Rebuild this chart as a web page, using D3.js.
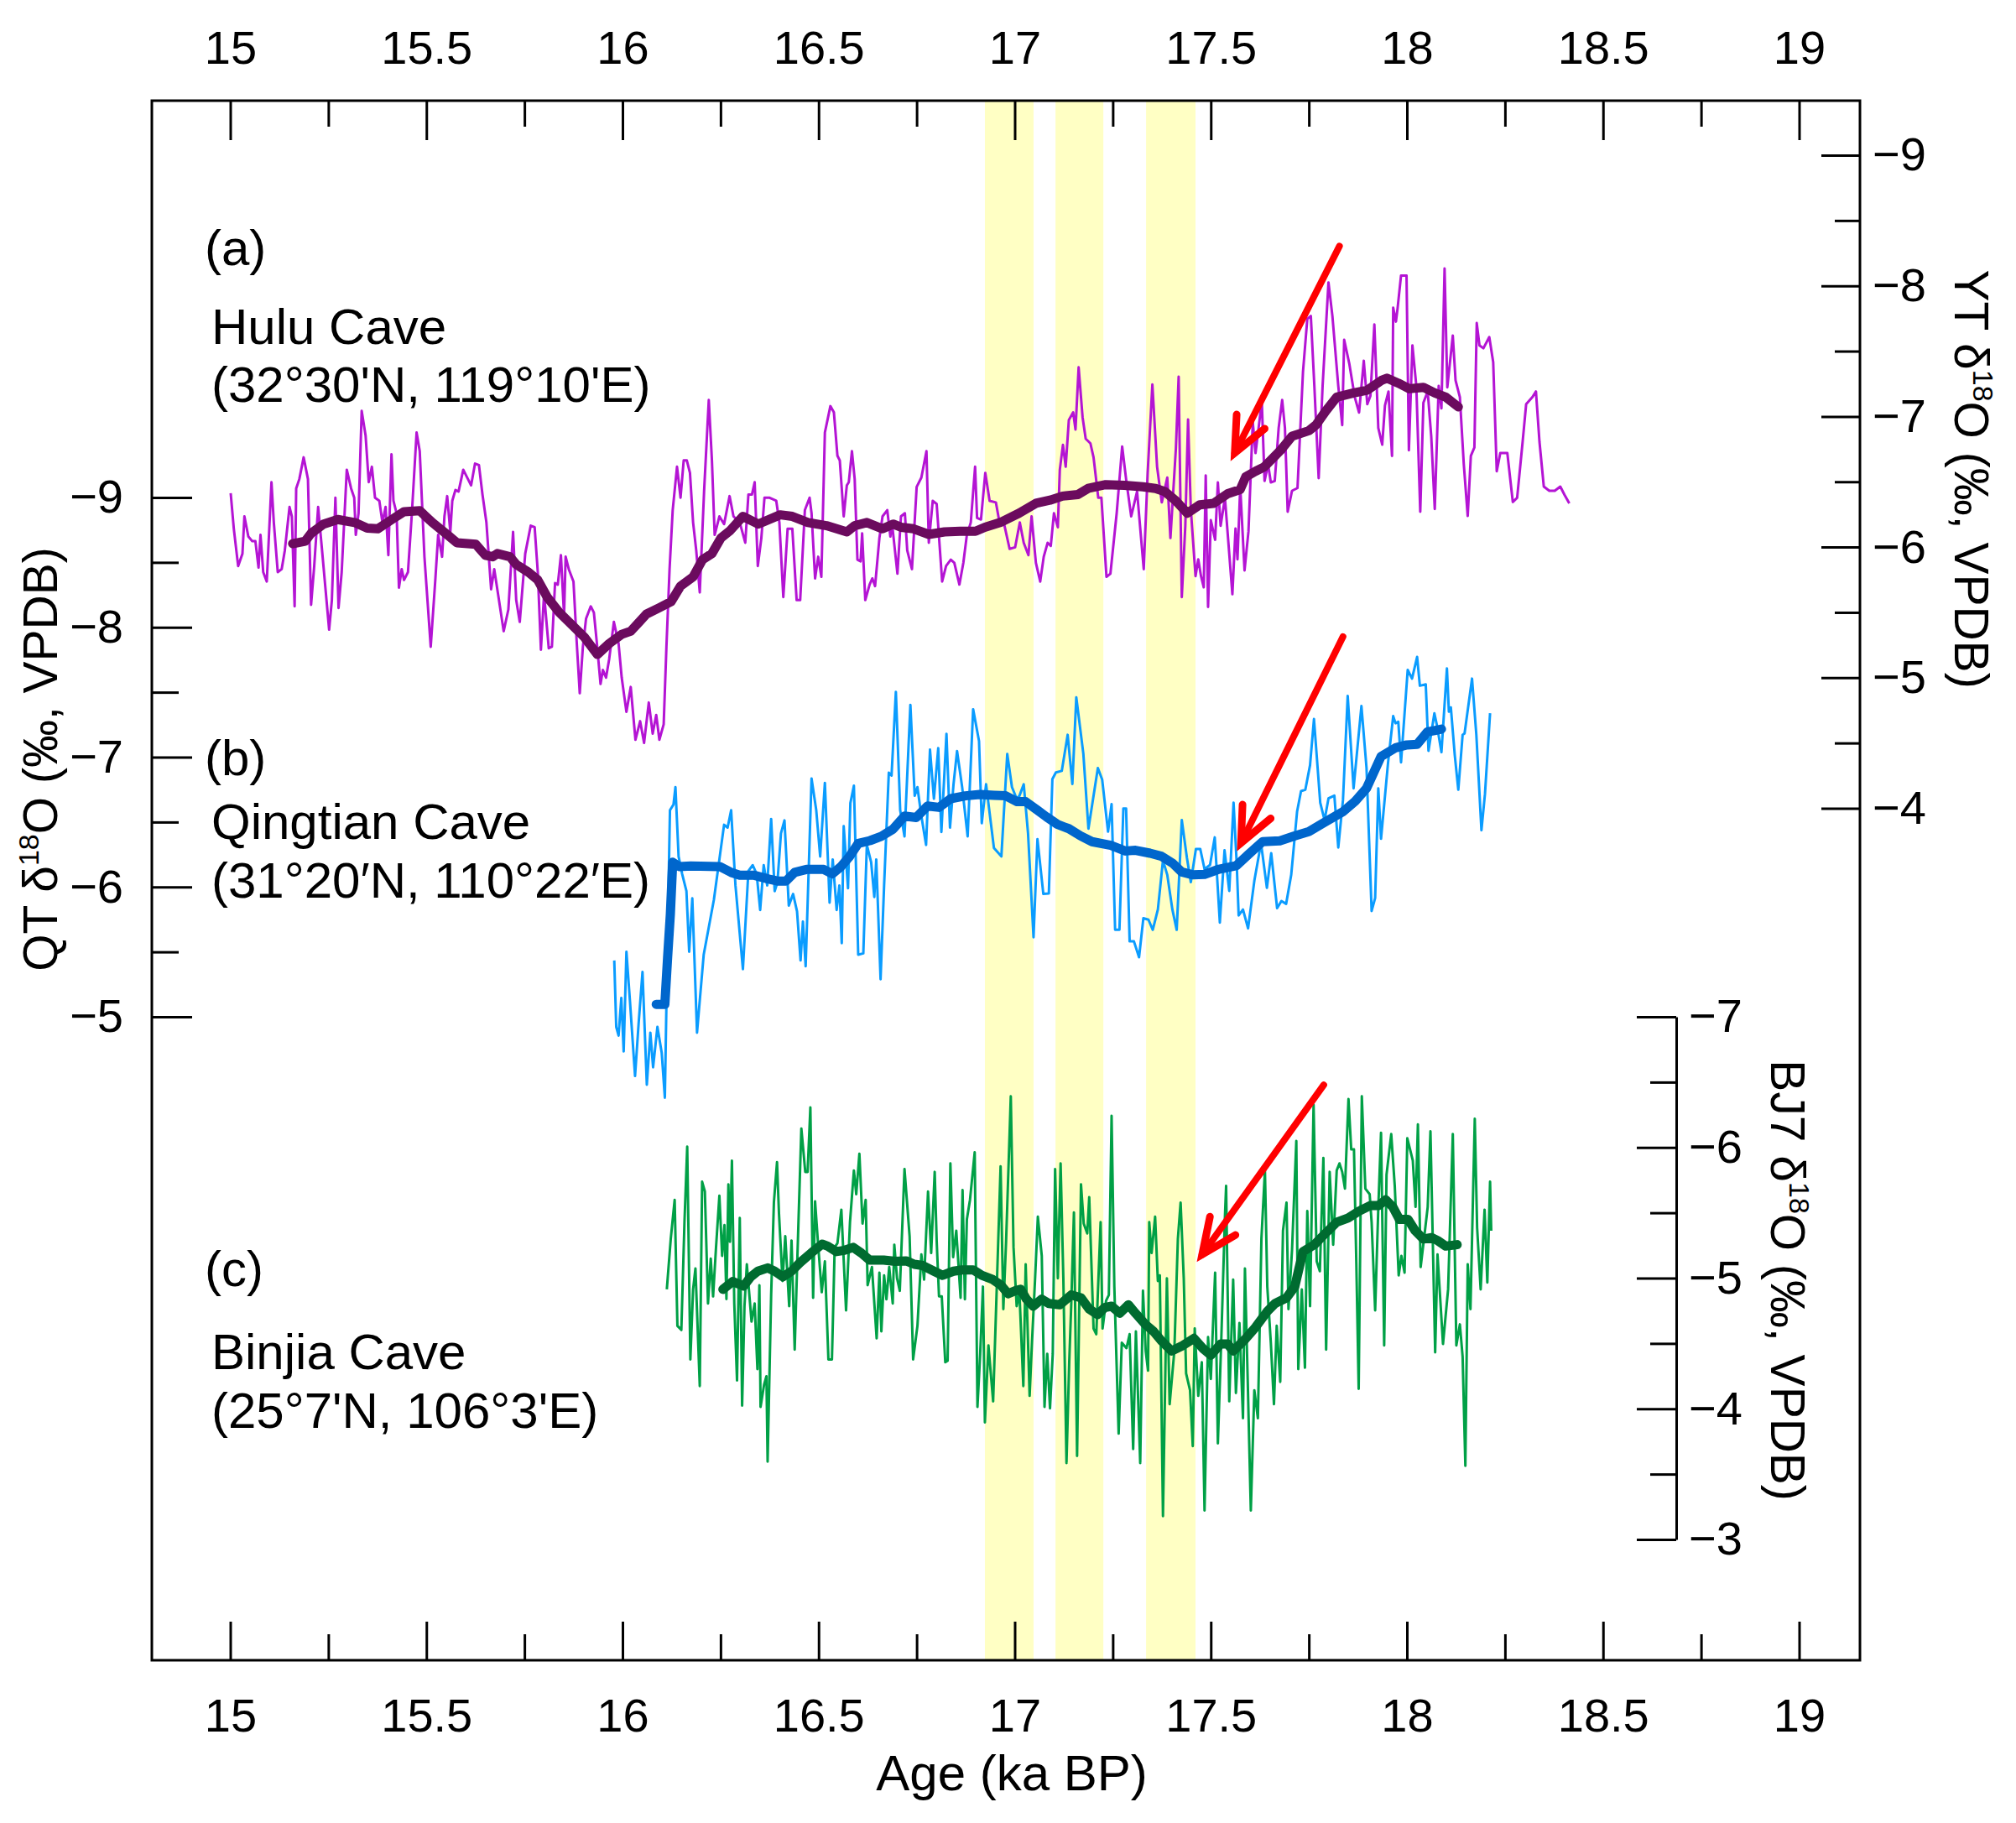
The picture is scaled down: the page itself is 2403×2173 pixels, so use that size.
<!DOCTYPE html>
<html>
<head>
<meta charset="utf-8">
<script src="https://cdn.jsdelivr.net/npm/d3@7"></script>
<style>
  body { margin: 0; background: #fff; }
</style>
</head>
<body>
<script>
// values: [age (ka BP), d18O (permil)]
var huluRaw = [
  [15.001,-6.413],[15.009,-6.140],[15.020,-5.855],[15.031,-5.950],[15.036,-6.235],[15.046,-6.081],[15.056,-6.045],[15.064,-6.045],
  [15.072,-5.843],[15.077,-6.093],[15.084,-5.808],[15.093,-5.736],[15.105,-6.497],[15.111,-6.188],[15.121,-5.808],[15.131,-5.831],
  [15.139,-5.974],[15.151,-6.307],[15.157,-6.235],[15.164,-5.546],[15.168,-6.449],[15.176,-6.520],[15.187,-6.687],[15.198,-6.520],
  [15.206,-5.558],[15.214,-5.855],[15.224,-6.307],[15.234,-5.974],[15.252,-5.368],[15.259,-5.594],[15.268,-6.378],[15.276,-5.534],
  [15.284,-5.808],[15.297,-6.592],[15.308,-6.449],[15.316,-6.378],[15.320,-6.093],[15.327,-6.259],[15.335,-7.043],[15.345,-6.853],
  [15.353,-6.497],[15.361,-6.615],[15.369,-6.378],[15.380,-6.354],[15.388,-6.188],[15.396,-6.307],[15.403,-5.938],[15.411,-6.710],
  [15.416,-6.354],[15.424,-6.259],[15.430,-5.689],[15.437,-5.831],[15.443,-5.748],[15.453,-5.808],[15.463,-6.259],[15.475,-6.877],
  [15.483,-6.734],[15.495,-5.926],[15.511,-5.237],[15.523,-5.760],[15.530,-6.093],[15.540,-5.926],[15.546,-6.235],[15.553,-6.390],
  [15.561,-6.116],[15.566,-6.354],[15.574,-6.437],[15.582,-6.425],[15.594,-6.592],[15.606,-6.520],[15.614,-6.473],[15.624,-6.639],
  [15.634,-6.627],[15.643,-6.402],[15.653,-6.188],[15.665,-5.677],[15.673,-5.831],[15.685,-5.594],[15.697,-5.356],[15.709,-5.522],
  [15.721,-6.116],[15.729,-5.594],[15.738,-5.427],[15.752,-5.950],[15.766,-6.164],[15.776,-6.152],[15.784,-5.808],[15.792,-5.214],
  [15.800,-5.641],[15.812,-5.225],[15.820,-5.237],[15.828,-5.724],[15.835,-5.712],[15.843,-5.938],[15.851,-5.475],[15.855,-5.926],
  [15.863,-5.831],[15.875,-5.736],[15.883,-5.285],[15.891,-4.881],[15.899,-5.237],[15.907,-5.451],[15.919,-5.546],[15.927,-5.499],
  [15.934,-5.285],[15.944,-4.952],[15.950,-5.059],[15.958,-5.000],[15.966,-5.142],[15.978,-5.427],[15.990,-5.261],[15.998,-5.000],
  [16.010,-4.738],[16.021,-4.929],[16.033,-4.525],[16.045,-4.667],[16.055,-4.501],[16.067,-4.810],[16.077,-4.572],[16.086,-4.715],
  [16.094,-4.525],[16.105,-4.643],[16.112,-5.237],[16.120,-5.831],[16.128,-6.283],[16.139,-6.615],[16.148,-6.378],[16.156,-6.663],
  [16.164,-6.663],[16.172,-6.568],[16.180,-6.188],[16.188,-5.974],[16.197,-5.653],[16.208,-6.425],[16.220,-7.126],[16.228,-6.663],
  [16.235,-6.093],[16.247,-6.235],[16.259,-6.176],[16.273,-6.390],[16.283,-6.235],[16.299,-6.188],[16.313,-6.033],[16.321,-6.402],
  [16.330,-6.402],[16.337,-6.497],[16.345,-5.855],[16.354,-6.069],[16.362,-6.378],[16.374,-6.378],[16.392,-6.354],[16.400,-6.188],
  [16.410,-5.617],[16.421,-6.140],[16.433,-6.140],[16.444,-5.594],[16.453,-5.594],[16.465,-6.283],[16.477,-6.378],[16.482,-6.259],
  [16.491,-5.760],[16.499,-5.926],[16.507,-5.772],[16.516,-6.877],[16.530,-7.079],[16.539,-7.031],[16.548,-6.699],[16.554,-6.663],
  [16.564,-6.235],[16.572,-6.473],[16.577,-6.497],[16.585,-6.734],[16.592,-6.520],[16.599,-5.903],[16.607,-5.891],[16.611,-6.105],
  [16.619,-5.594],[16.630,-5.713],[16.637,-5.760],[16.644,-5.701],[16.655,-6.069],[16.663,-6.235],[16.675,-6.283],[16.683,-6.081],
  [16.687,-6.188],[16.701,-5.796],[16.710,-6.235],[16.720,-6.259],[16.726,-5.974],[16.738,-5.831],[16.750,-6.461],[16.762,-6.532],
  [16.775,-6.734],[16.781,-6.033],[16.791,-6.354],[16.801,-6.330],[16.815,-5.736],[16.825,-5.855],[16.837,-5.903],[16.846,-5.879],
  [16.859,-5.713],[16.869,-5.879],[16.878,-6.093],[16.888,-6.188],[16.899,-6.615],[16.904,-6.223],[16.914,-6.211],[16.925,-6.568],
  [16.936,-6.354],[16.952,-6.342],[16.962,-6.176],[16.973,-6.176],[16.987,-5.986],[17.001,-5.998],[17.013,-6.188],[17.023,-6.033],
  [17.035,-5.938],[17.043,-6.235],[17.054,-5.879],[17.065,-5.736],[17.074,-5.926],[17.084,-6.033],[17.092,-6.009],[17.100,-6.259],
  [17.110,-6.152],[17.115,-6.592],[17.123,-6.782],[17.130,-6.615],[17.138,-6.972],[17.149,-7.031],[17.155,-6.900],[17.163,-7.376],
  [17.173,-6.995],[17.181,-6.829],[17.193,-6.794],[17.201,-6.687],[17.213,-6.378],[17.221,-6.378],[17.234,-5.772],[17.244,-5.796],
  [17.260,-6.259],[17.274,-6.770],[17.284,-6.520],[17.297,-6.235],[17.312,-6.425],[17.329,-5.831],[17.339,-6.568],[17.351,-7.245],
  [17.363,-6.615],[17.375,-6.342],[17.389,-6.532],[17.397,-6.069],[17.411,-6.758],[17.418,-7.304],[17.426,-5.617],[17.435,-6.163],
  [17.442,-6.977],[17.449,-6.291],[17.461,-5.778],[17.468,-5.906],[17.475,-5.778],[17.482,-5.692],[17.487,-6.548],[17.493,-5.542],
  [17.500,-6.206],[17.511,-6.056],[17.518,-6.495],[17.525,-6.163],[17.536,-6.377],[17.547,-5.949],[17.555,-5.639],[17.563,-6.142],
  [17.568,-5.906],[17.575,-6.463],[17.586,-5.821],[17.596,-6.120],[17.607,-6.955],[17.614,-6.720],[17.621,-6.891],[17.630,-7.116],
  [17.637,-6.506],[17.646,-6.634],[17.653,-6.495],[17.663,-6.506],[17.673,-6.912],[17.682,-7.126],[17.689,-6.912],[17.696,-6.270],
  [17.707,-6.431],[17.721,-6.452],[17.735,-7.341],[17.746,-7.747],[17.755,-7.769],[17.764,-7.233],[17.775,-6.527],[17.785,-7.233],
  [17.800,-8.026],[17.810,-7.769],[17.825,-7.233],[17.835,-6.934],[17.840,-7.587],[17.853,-7.405],[17.867,-7.148],[17.878,-7.030],
  [17.890,-7.426],[17.899,-7.094],[17.907,-7.159],[17.917,-7.704],[17.927,-6.912],[17.937,-6.784],[17.944,-7.084],[17.953,-7.191],
  [17.962,-6.698],[17.965,-7.833],[17.972,-7.726],[17.976,-7.822],[17.985,-8.079],[17.999,-8.079],[18.005,-6.741],[18.014,-7.544],
  [18.024,-7.233],[18.034,-6.270],[18.042,-7.105],[18.053,-7.191],[18.062,-6.848],[18.071,-6.292],[18.081,-7.233],[18.088,-7.062],
  [18.096,-8.133],[18.103,-7.223],[18.117,-7.619],[18.124,-7.276],[18.135,-7.148],[18.145,-6.634],[18.155,-6.238],[18.163,-6.698],
  [18.172,-6.762],[18.178,-7.715],[18.185,-7.544],[18.195,-7.522],[18.210,-7.608],[18.220,-7.415],[18.229,-6.580],[18.238,-6.720],
  [18.256,-6.720],[18.270,-6.345],[18.281,-6.377],[18.295,-6.805],[18.304,-7.094],[18.320,-7.148],[18.329,-7.191],[18.338,-6.805],
  [18.349,-6.463],[18.363,-6.431],[18.377,-6.431],[18.391,-6.463],[18.402,-6.399],[18.414,-6.334]
];
var huluSmooth = [
  [15.159,-6.026],[15.191,-6.045],[15.206,-6.105],[15.238,-6.176],[15.274,-6.211],[15.317,-6.188],[15.349,-6.145],[15.376,-6.140],
  [15.412,-6.211],[15.443,-6.271],[15.483,-6.278],[15.515,-6.188],[15.554,-6.093],[15.578,-6.033],[15.626,-6.021],[15.650,-5.938],
  [15.669,-5.926],[15.681,-5.950],[15.713,-5.926],[15.729,-5.867],[15.760,-5.808],[15.784,-5.748],[15.808,-5.617],[15.839,-5.499],
  [15.871,-5.404],[15.903,-5.309],[15.936,-5.178],[15.966,-5.261],[15.998,-5.332],[16.021,-5.356],[16.061,-5.487],[16.093,-5.534],
  [16.124,-5.582],[16.148,-5.701],[16.180,-5.772],[16.204,-5.903],[16.228,-5.950],[16.251,-6.069],[16.275,-6.128],[16.307,-6.235],
  [16.346,-6.176],[16.402,-6.247],[16.433,-6.235],[16.473,-6.188],[16.520,-6.164],[16.572,-6.116],[16.592,-6.164],[16.623,-6.188],
  [16.663,-6.140],[16.690,-6.176],[16.710,-6.152],[16.742,-6.140],[16.781,-6.097],[16.821,-6.116],[16.861,-6.121],[16.900,-6.121],
  [16.924,-6.152],[16.963,-6.188],[17.011,-6.259],[17.054,-6.335],[17.090,-6.359],[17.122,-6.390],[17.161,-6.402],[17.187,-6.449],
  [17.232,-6.478],[17.280,-6.473],[17.327,-6.461],[17.359,-6.449],[17.383,-6.425],[17.411,-6.354],[17.440,-6.259],[17.472,-6.324],
  [17.507,-6.334],[17.543,-6.409],[17.575,-6.441],[17.589,-6.538],[17.614,-6.580],[17.636,-6.613],[17.657,-6.677],[17.678,-6.741],
  [17.707,-6.848],[17.750,-6.891],[17.768,-6.934],[17.793,-7.041],[17.821,-7.148],[17.864,-7.180],[17.899,-7.201],[17.935,-7.276],
  [17.949,-7.293],[17.978,-7.255],[18.006,-7.212],[18.042,-7.223],[18.071,-7.180],[18.099,-7.148],[18.131,-7.073]
];
var qtRaw = [
  [15.979,-5.434],[15.984,-4.922],[15.990,-4.855],[15.997,-5.145],[16.003,-4.733],[16.010,-5.501],[16.019,-5.122],[16.032,-4.544],
  [16.041,-4.944],[16.051,-5.345],[16.062,-4.477],[16.071,-4.878],[16.078,-4.611],[16.089,-4.922],[16.100,-4.722],[16.108,-4.377],
  [16.114,-5.456],[16.121,-6.591],[16.130,-6.635],[16.135,-6.769],[16.143,-6.235],[16.152,-6.101],[16.163,-5.968],[16.170,-5.501],
  [16.178,-5.912],[16.190,-4.878],[16.207,-5.478],[16.233,-5.901],[16.259,-6.479],[16.268,-6.457],[16.277,-6.591],[16.288,-6.012],
  [16.307,-5.367],[16.321,-6.123],[16.332,-6.168],[16.342,-6.101],[16.351,-5.823],[16.360,-6.168],[16.369,-6.012],[16.379,-6.524],
  [16.388,-5.968],[16.395,-6.035],[16.404,-6.413],[16.413,-6.513],[16.424,-5.857],[16.435,-5.946],[16.445,-5.812],[16.454,-5.434],
  [16.460,-5.734],[16.467,-5.389],[16.482,-6.835],[16.494,-6.591],[16.504,-6.235],[16.516,-6.802],[16.528,-5.879],[16.536,-6.212],
  [16.546,-5.823],[16.553,-6.012],[16.559,-5.567],[16.564,-6.468],[16.575,-5.990],[16.581,-6.646],[16.590,-6.780],[16.601,-5.478],
  [16.614,-5.489],[16.623,-6.324],[16.634,-6.190],[16.642,-5.923],[16.647,-6.212],[16.658,-5.289],[16.667,-6.012],[16.679,-6.880],
  [16.686,-6.858],[16.697,-7.503],[16.708,-6.591],[16.719,-6.390],[16.734,-7.403],[16.745,-6.702],[16.752,-6.769],[16.762,-6.546],
  [16.774,-6.324],[16.784,-7.058],[16.794,-6.680],[16.805,-7.069],[16.813,-6.424],[16.826,-7.180],[16.835,-6.457],[16.844,-6.791],
  [16.853,-7.047],[16.866,-6.769],[16.880,-6.390],[16.894,-7.369],[16.909,-7.125],[16.916,-6.491],[16.927,-6.791],[16.947,-6.301],
  [16.966,-6.235],[16.981,-7.025],[16.993,-6.769],[17.005,-6.680],[17.012,-6.702],[17.023,-6.791],[17.034,-6.413],[17.048,-5.612],
  [17.058,-6.368],[17.073,-5.946],[17.087,-5.950],[17.096,-6.830],[17.105,-6.882],[17.120,-6.894],[17.135,-7.172],[17.147,-6.793],
  [17.157,-7.461],[17.175,-7.027],[17.188,-6.449],[17.212,-6.916],[17.223,-6.827],[17.238,-6.426],[17.247,-6.638],[17.256,-5.670],
  [17.267,-5.670],[17.277,-6.604],[17.284,-6.604],[17.293,-5.581],[17.304,-5.581],[17.317,-5.459],[17.328,-5.759],[17.341,-5.748],
  [17.352,-5.670],[17.365,-5.826],[17.378,-6.204],[17.389,-6.093],[17.402,-5.826],[17.413,-5.670],[17.426,-6.515],[17.439,-6.226],
  [17.449,-6.037],[17.462,-6.293],[17.473,-6.293],[17.484,-6.137],[17.498,-6.170],[17.510,-6.382],[17.523,-5.726],[17.535,-6.282],
  [17.547,-5.970],[17.558,-6.649],[17.566,-6.182],[17.571,-5.781],[17.582,-5.826],[17.595,-5.681],[17.611,-6.048],[17.628,-6.337],
  [17.643,-5.993],[17.654,-6.260],[17.669,-5.837],[17.680,-5.892],[17.692,-5.870],[17.705,-6.093],[17.720,-6.582],[17.730,-6.738],
  [17.741,-6.749],[17.753,-6.938],[17.763,-7.294],[17.779,-6.649],[17.790,-6.515],[17.800,-6.682],[17.815,-6.704],[17.825,-6.304],
  [17.837,-6.671],[17.849,-7.472],[17.864,-6.760],[17.884,-7.394],[17.897,-6.916],[17.910,-5.815],[17.919,-5.915],[17.927,-6.760],
  [17.934,-6.371],[17.952,-6.960],[17.965,-7.316],[17.971,-7.261],[17.978,-7.272],[17.985,-6.960],[18.002,-7.672],[18.013,-7.605],
  [18.026,-7.772],[18.033,-7.550],[18.048,-7.561],[18.055,-7.049],[18.070,-7.338],[18.077,-7.238],[18.088,-7.038],[18.102,-7.683],
  [18.107,-7.350],[18.112,-7.383],[18.122,-7.016],[18.131,-6.749],[18.142,-7.172],[18.147,-7.183],[18.166,-7.605],[18.177,-7.172],
  [18.190,-6.437],[18.199,-6.716],[18.212,-7.338]
];
var qtSmooth = [
  [16.086,-5.096],[16.108,-5.096],[16.115,-5.456],[16.122,-5.790],[16.128,-6.190],[16.145,-6.157],[16.174,-6.161],[16.248,-6.157],
  [16.277,-6.112],[16.299,-6.090],[16.336,-6.090],[16.373,-6.061],[16.395,-6.046],[16.417,-6.046],[16.439,-6.112],[16.469,-6.135],
  [16.513,-6.135],[16.535,-6.101],[16.557,-6.157],[16.579,-6.235],[16.601,-6.335],[16.631,-6.357],[16.660,-6.390],[16.690,-6.446],
  [16.719,-6.546],[16.749,-6.535],[16.778,-6.624],[16.807,-6.613],[16.837,-6.680],[16.874,-6.702],[16.911,-6.713],[16.947,-6.706],
  [16.977,-6.702],[17.006,-6.657],[17.028,-6.657],[17.058,-6.591],[17.080,-6.542],[17.109,-6.482],[17.138,-6.449],[17.168,-6.393],
  [17.197,-6.349],[17.245,-6.320],[17.282,-6.277],[17.308,-6.282],[17.345,-6.260],[17.374,-6.237],[17.403,-6.182],[17.426,-6.115],
  [17.455,-6.093],[17.484,-6.097],[17.521,-6.137],[17.565,-6.164],[17.595,-6.248],[17.632,-6.349],[17.676,-6.355],[17.713,-6.393],
  [17.750,-6.426],[17.787,-6.493],[17.838,-6.582],[17.868,-6.660],[17.897,-6.760],[17.934,-7.005],[17.971,-7.072],[18.000,-7.094],
  [18.026,-7.098],[18.052,-7.194],[18.070,-7.205],[18.088,-7.216]
];
var bjRaw = [
  [16.113,-4.914],[16.123,-5.299],[16.133,-5.599],[16.140,-4.635],[16.150,-4.603],[16.158,-5.428],[16.165,-6.006],[16.173,-4.378],
  [16.180,-4.914],[16.186,-5.074],[16.197,-4.174],[16.203,-5.738],[16.210,-5.663],[16.218,-4.806],[16.225,-5.149],[16.231,-4.860],
  [16.238,-5.213],[16.247,-5.631],[16.254,-5.170],[16.260,-5.406],[16.265,-4.839],[16.270,-5.717],[16.274,-5.278],[16.279,-5.899],
  [16.285,-4.806],[16.292,-4.217],[16.299,-5.460],[16.305,-4.024],[16.311,-4.785],[16.317,-5.106],[16.329,-4.667],[16.337,-4.806],
  [16.344,-4.303],[16.349,-4.946],[16.352,-4.014],[16.361,-4.185],[16.367,-4.249],[16.370,-3.596],[16.379,-4.871],[16.386,-5.578],
  [16.394,-5.888],[16.399,-5.492],[16.408,-4.978],[16.415,-5.321],[16.425,-4.785],[16.431,-5.288],[16.439,-4.453],[16.446,-5.170],
  [16.456,-6.145],[16.466,-5.813],[16.472,-5.813],[16.479,-6.306],[16.486,-4.849],[16.491,-5.588],[16.498,-5.288],[16.508,-4.892],
  [16.516,-5.128],[16.525,-4.378],[16.534,-4.378],[16.541,-5.235],[16.548,-5.267],[16.558,-5.524],[16.570,-4.753],[16.580,-5.428],
  [16.590,-5.824],[16.596,-5.642],[16.604,-5.952],[16.612,-5.417],[16.620,-5.599],[16.625,-4.946],[16.636,-5.085],[16.648,-4.539],
  [16.655,-5.042],[16.660,-4.592],[16.667,-5.021],[16.673,-4.838],[16.680,-5.085],[16.689,-4.806],[16.693,-5.256],[16.700,-4.999],
  [16.707,-4.903],[16.719,-5.835],[16.732,-5.320],[16.741,-4.378],[16.752,-4.635],[16.762,-5.181],[16.769,-4.989],[16.779,-5.663],
  [16.787,-5.192],[16.796,-5.813],[16.801,-5.288],[16.807,-4.860],[16.814,-4.860],[16.823,-4.356],[16.829,-4.367],[16.836,-5.878],
  [16.843,-5.160],[16.851,-5.363],[16.862,-4.849],[16.867,-5.674],[16.873,-4.838],[16.878,-5.449],[16.886,-5.599],[16.898,-5.963],
  [16.905,-4.014],[16.912,-4.421],[16.919,-4.935],[16.924,-3.896],[16.933,-4.485],[16.945,-4.057],[16.955,-4.999],[16.964,-5.856],
  [16.971,-4.763],[16.978,-5.278],[16.990,-6.392],[16.997,-5.235],[17.005,-4.785],[17.012,-4.892],[17.022,-4.174],[17.028,-5.106],
  [17.038,-4.099],[17.044,-4.506],[17.052,-4.999],[17.059,-5.470],[17.069,-5.170],[17.076,-4.014],[17.083,-4.421],[17.090,-4.003],
  [17.097,-4.421],[17.103,-5.835],[17.110,-4.999],[17.117,-5.878],[17.124,-4.999],[17.132,-3.585],[17.139,-4.356],[17.144,-4.785],
  [17.151,-5.503],[17.159,-3.639],[17.169,-5.717],[17.176,-5.417],[17.185,-5.342],[17.190,-5.620],[17.201,-4.614],[17.208,-4.571],
  [17.219,-5.428],[17.224,-4.614],[17.233,-4.828],[17.240,-4.871],[17.247,-6.242],[17.254,-4.935],[17.265,-3.810],[17.273,-4.506],
  [17.285,-4.464],[17.293,-4.571],[17.302,-3.692],[17.309,-4.592],[17.320,-3.585],[17.327,-4.903],[17.334,-4.442],[17.340,-4.292],
  [17.343,-5.428],[17.349,-5.192],[17.358,-5.470],[17.365,-4.978],[17.370,-5.021],[17.378,-3.178],[17.388,-4.999],[17.395,-4.035],
  [17.407,-4.442],[17.416,-5.299],[17.423,-5.578],[17.431,-4.999],[17.437,-4.271],[17.447,-4.142],[17.454,-3.714],[17.459,-4.614],
  [17.468,-4.099],[17.477,-4.356],[17.484,-3.221],[17.493,-4.549],[17.500,-4.228],[17.511,-5.042],[17.518,-3.735],[17.527,-4.560],
  [17.536,-5.470],[17.539,-5.706],[17.547,-4.057],[17.557,-4.989],[17.564,-4.121],[17.573,-4.656],[17.582,-3.928],[17.587,-5.074],
  [17.594,-4.228],[17.602,-3.221],[17.611,-4.142],[17.620,-3.928],[17.629,-5.299],[17.638,-5.824],[17.644,-4.935],[17.653,-4.506],
  [17.661,-4.035],[17.668,-4.635],[17.677,-4.206],[17.684,-5.363],[17.693,-5.578],[17.698,-4.763],[17.707,-5.213],[17.718,-6.049],
  [17.723,-4.303],[17.732,-4.914],[17.740,-4.314],[17.746,-5.513],[17.753,-4.785],[17.762,-6.327],[17.770,-5.128],[17.778,-5.053],
  [17.787,-5.920],[17.794,-4.453],[17.803,-5.813],[17.812,-5.256],[17.821,-5.824],[17.828,-5.878],[17.835,-5.813],[17.842,-5.685],
  [17.851,-6.370],[17.858,-5.985],[17.865,-5.985],[17.871,-5.117],[17.877,-4.153],[17.885,-6.392],[17.894,-5.685],[17.905,-5.642],
  [17.910,-5.428],[17.919,-4.753],[17.927,-5.535],[17.934,-6.113],[17.942,-4.485],[17.948,-5.792],[17.960,-6.102],[17.969,-5.706],
  [17.979,-5.021],[17.986,-5.170],[17.994,-5.042],[18.001,-6.070],[18.008,-5.985],[18.015,-5.899],[18.022,-5.545],[18.028,-6.177],
  [18.035,-5.085],[18.046,-5.363],[18.053,-5.545],[18.060,-6.124],[18.072,-4.432],[18.078,-5.181],[18.092,-4.496],[18.105,-4.914],
  [18.117,-6.102],[18.126,-4.485],[18.135,-4.646],[18.142,-4.399],[18.149,-3.564],[18.155,-5.106],[18.162,-4.763],[18.173,-6.220],
  [18.179,-5.385],[18.188,-4.914],[18.198,-5.524],[18.205,-4.967],[18.212,-5.738],[18.215,-5.363]
];
var bjSmooth = [
  [16.256,-4.914],[16.281,-4.974],[16.309,-4.939],[16.327,-5.010],[16.345,-5.053],[16.370,-5.078],[16.388,-5.053],[16.409,-5.010],
  [16.431,-5.053],[16.452,-5.117],[16.481,-5.192],[16.509,-5.260],[16.523,-5.245],[16.545,-5.203],[16.566,-5.213],[16.588,-5.235],
  [16.609,-5.192],[16.630,-5.138],[16.666,-5.138],[16.695,-5.128],[16.723,-5.132],[16.744,-5.106],[16.766,-5.096],[16.794,-5.053],
  [16.816,-5.021],[16.844,-5.053],[16.866,-5.063],[16.894,-5.063],[16.916,-5.021],[16.944,-4.989],[16.965,-4.946],[16.983,-4.881],
  [17.001,-4.903],[17.015,-4.914],[17.030,-4.839],[17.047,-4.785],[17.069,-4.839],[17.087,-4.806],[17.115,-4.796],[17.144,-4.871],
  [17.169,-4.849],[17.190,-4.763],[17.211,-4.721],[17.229,-4.774],[17.247,-4.785],[17.268,-4.731],[17.290,-4.796],[17.308,-4.731],
  [17.333,-4.646],[17.354,-4.592],[17.375,-4.517],[17.400,-4.442],[17.429,-4.485],[17.457,-4.539],[17.479,-4.464],[17.500,-4.410],
  [17.525,-4.496],[17.543,-4.496],[17.557,-4.442],[17.586,-4.528],[17.614,-4.624],[17.643,-4.742],[17.664,-4.806],[17.693,-4.849],
  [17.714,-4.935],[17.735,-5.203],[17.764,-5.256],[17.792,-5.342],[17.821,-5.428],[17.850,-5.460],[17.878,-5.513],[17.907,-5.556],
  [17.928,-5.556],[17.946,-5.599],[17.964,-5.545],[17.981,-5.449],[18.003,-5.449],[18.021,-5.363],[18.042,-5.299],[18.063,-5.310],
  [18.078,-5.288],[18.099,-5.245],[18.128,-5.256]
];
// shaded intervals (ka BP)
var yellowBands = [[16.924, 17.048], [17.104, 17.226], [17.335, 17.461]];
// tick values
var xMajor = [15, 15.5, 16, 16.5, 17, 17.5, 18, 18.5, 19];
var xMinor = [15.25, 15.75, 16.25, 16.75, 17.25, 17.75, 18.25, 18.75];
var ytMajor = [-9, -8, -7, -6, -5, -4];
var ytMinor = [-8.5, -7.5, -6.5, -5.5, -4.5];
var qtMajor = [-9, -8, -7, -6, -5];
var qtMinor = [-8.5, -7.5, -6.5, -5.5];
var bjMajor = [-7, -6, -5, -4, -3];
var bjMinor = [-6.5, -5.5, -4.5, -3.5];
// red arrows, tail -> tip, in [age, value] of the panel's own axis
var arrows = [
  {axis: "yt", from: [17.828, -8.304], to: [17.561, -6.720]},
  {axis: "qt", from: [17.837, -7.928], to: [17.577, -6.338]},
  {axis: "bj", from: [17.788, -6.479], to: [17.478, -5.181]}
];

var FONT = "'Liberation Sans', Arial, sans-serif";
var W = 2403, H = 2173;
var frame = {left: 181, right: 2217, top: 120, bottom: 1979};

var svg = d3.select("body").append("svg")
    .attr("width", W)
    .attr("height", H)
    .style("background", "#fff");

var x = d3.scaleLinear().domain([15, 19]).range([274.5, 2144.5]);
var yYT = d3.scaleLinear().domain([-9, -4]).range([185, 963.5]);
var yQT = d3.scaleLinear().domain([-9, -5]).range([593, 1212]);
var yBJ = d3.scaleLinear().domain([-7, -3]).range([1212, 1835]);
var yScales = {yt: yYT, qt: yQT, bj: yBJ};

// yellow bands
svg.selectAll("rect.band")
  .data(yellowBands)
  .join("rect")
    .attr("class", "band")
    .attr("x", function(d) { return x(d[0]); })
    .attr("width", function(d) { return x(d[1]) - x(d[0]); })
    .attr("y", frame.top)
    .attr("height", frame.bottom - frame.top)
    .attr("fill", "#ffffc4");

// records
var series = [
  {raw: huluRaw, smooth: huluSmooth, y: yYT, c1: "#b414d4", c2: "#6b0b5e"},
  {raw: qtRaw, smooth: qtSmooth, y: yQT, c1: "#0a9cff", c2: "#0066cc"},
  {raw: bjRaw, smooth: bjSmooth, y: yBJ, c1: "#00a046", c2: "#006b30"}
];

series.forEach(function(s) {
  var line = d3.line()
    .x(function(d) { return x(d[0]); })
    .y(function(d) { return s.y(d[1]); });
  svg.append("path")
    .datum(s.raw)
    .attr("d", line)
    .attr("fill", "none")
    .attr("stroke", s.c1)
    .attr("stroke-width", 3)
    .attr("stroke-linejoin", "round");
  svg.append("path")
    .datum(s.smooth)
    .attr("d", line)
    .attr("fill", "none")
    .attr("stroke", s.c2)
    .attr("stroke-width", 11)
    .attr("stroke-linejoin", "round")
    .attr("stroke-linecap", "round");
});

// arrows
arrows.forEach(function(a) {
  var ys = yScales[a.axis];
  var x0 = x(a.from[0]), y0 = ys(a.from[1]);
  var x1 = x(a.to[0]), y1 = ys(a.to[1]);
  var ang = Math.atan2(y0 - y1, x0 - x1);
  var len = 46, spread = 24 * Math.PI / 180;
  var b1 = [x1 + len * Math.cos(ang - spread), y1 + len * Math.sin(ang - spread)];
  var b2 = [x1 + len * Math.cos(ang + spread), y1 + len * Math.sin(ang + spread)];
  svg.append("line")
    .attr("x1", x0).attr("y1", y0).attr("x2", x1).attr("y2", y1)
    .attr("stroke", "#ff0000").attr("stroke-width", 8).attr("stroke-linecap", "round");
  svg.append("path")
    .attr("d", "M" + b1 + "L" + x1 + "," + y1 + "L" + b2)
    .attr("fill", "none")
    .attr("stroke", "#ff0000").attr("stroke-width", 9)
    .attr("stroke-linecap", "round").attr("stroke-linejoin", "miter");
});

// frame
svg.append("rect")
  .attr("x", frame.left).attr("y", frame.top)
  .attr("width", frame.right - frame.left)
  .attr("height", frame.bottom - frame.top)
  .attr("fill", "none")
  .attr("stroke", "#000")
  .attr("stroke-width", 3);

function styleAxis(g, keepDomain) {
  if (!keepDomain) g.select(".domain").remove();
  g.attr("font-family", FONT).attr("font-size", 56);
  g.selectAll("line").attr("stroke", "#000").attr("stroke-width", 3);
  g.selectAll(".domain").attr("stroke", "#000").attr("stroke-width", 3);
  g.selectAll("text").attr("fill", "#000");
}

function addAxis(gen, tx, ty, keepDomain) {
  svg.append("g")
    .attr("transform", "translate(" + tx + "," + ty + ")")
    .call(gen)
    .call(function(g) { styleAxis(g, keepDomain); });
}

var fmt = d3.format("");
var noLabel = function() { return ""; };

// top: inward ticks + labels above
addAxis(d3.axisBottom(x).tickValues(xMajor).tickSize(47).tickFormat(noLabel), 0, frame.top);
addAxis(d3.axisBottom(x).tickValues(xMinor).tickSize(31).tickFormat(noLabel), 0, frame.top);
addAxis(d3.axisTop(x).tickValues(xMajor).tickSize(0).tickPadding(44).tickFormat(fmt), 0, frame.top);

// bottom
addAxis(d3.axisTop(x).tickValues(xMajor).tickSize(46).tickFormat(noLabel), 0, frame.bottom);
addAxis(d3.axisTop(x).tickValues(xMinor).tickSize(31).tickFormat(noLabel), 0, frame.bottom);
addAxis(d3.axisBottom(x).tickValues(xMajor).tickSize(0).tickPadding(45).tickFormat(fmt), 0, frame.bottom);

// left: Qingtian
addAxis(d3.axisRight(yQT).tickValues(qtMajor).tickSize(48).tickFormat(noLabel), frame.left, 0);
addAxis(d3.axisRight(yQT).tickValues(qtMinor).tickSize(32).tickFormat(noLabel), frame.left, 0);
addAxis(d3.axisLeft(yQT).tickValues(qtMajor).tickSize(0).tickPadding(34).tickFormat(fmt), frame.left, 0);

// right: Hulu (YT)
addAxis(d3.axisLeft(yYT).tickValues(ytMajor).tickSize(46).tickFormat(noLabel), frame.right, 0);
addAxis(d3.axisLeft(yYT).tickValues(ytMinor).tickSize(30).tickFormat(noLabel), frame.right, 0);
addAxis(d3.axisRight(yYT).tickValues(ytMajor).tickSize(0).tickPadding(15).tickFormat(fmt), frame.right, 0);

// inner axis: Binjia (BJ7)
var bjX = 1998;
addAxis(d3.axisLeft(yBJ).tickValues(bjMajor).tickSize(47).tickSizeOuter(0).tickFormat(noLabel), bjX, 0, true);
addAxis(d3.axisLeft(yBJ).tickValues(bjMinor).tickSize(31).tickFormat(noLabel), bjX, 0);
addAxis(d3.axisRight(yBJ).tickValues(bjMajor).tickSize(0).tickPadding(15).tickFormat(fmt), bjX, 0);

// axis titles
function isoTitle(prefix, tx, ty, rot) {
  var t = svg.append("text")
    .attr("transform", "translate(" + tx + "," + ty + ") rotate(" + rot + ")")
    .attr("text-anchor", "middle")
    .attr("font-family", FONT)
    .attr("font-size", 57)
    .attr("fill", "#000");
  t.append("tspan").text(prefix + " \u03b4");
  t.append("tspan").attr("font-size", 34).attr("dy", -22).text("18");
  t.append("tspan").attr("dy", 22).text("O (\u2030, VPDB)");
}
isoTitle("QT", 68, 905, -90);
isoTitle("YT", 2330, 571, 90);
isoTitle("BJ7", 2111, 1526, 90);

svg.append("text")
  .attr("x", 1206).attr("y", 2134)
  .attr("text-anchor", "middle")
  .attr("font-family", FONT)
  .attr("font-size", 60)
  .attr("fill", "#000")
  .text("Age (ka BP)");

// panel labels
var labels = [
  {t: "(a)", x: 244, y: 316},
  {t: "Hulu Cave", x: 252, y: 410},
  {t: "(32\u00b030'N, 119\u00b010'E)", x: 252, y: 479},
  {t: "(b)", x: 244, y: 924},
  {t: "Qingtian Cave", x: 252, y: 1000},
  {t: "(31\u00b020\u2032N, 110\u00b022\u2032E)", x: 252, y: 1070},
  {t: "(c)", x: 244, y: 1533},
  {t: "Binjia Cave", x: 252, y: 1632},
  {t: "(25\u00b07'N, 106\u00b03'E)", x: 252, y: 1702}
];
svg.selectAll("text.lab")
  .data(labels)
  .join("text")
    .attr("class", "lab")
    .attr("x", function(d) { return d.x; })
    .attr("y", function(d) { return d.y; })
    .attr("font-family", FONT)
    .attr("font-size", 60)
    .attr("fill", "#000")
    .text(function(d) { return d.t; });
</script>
</body>
</html>
